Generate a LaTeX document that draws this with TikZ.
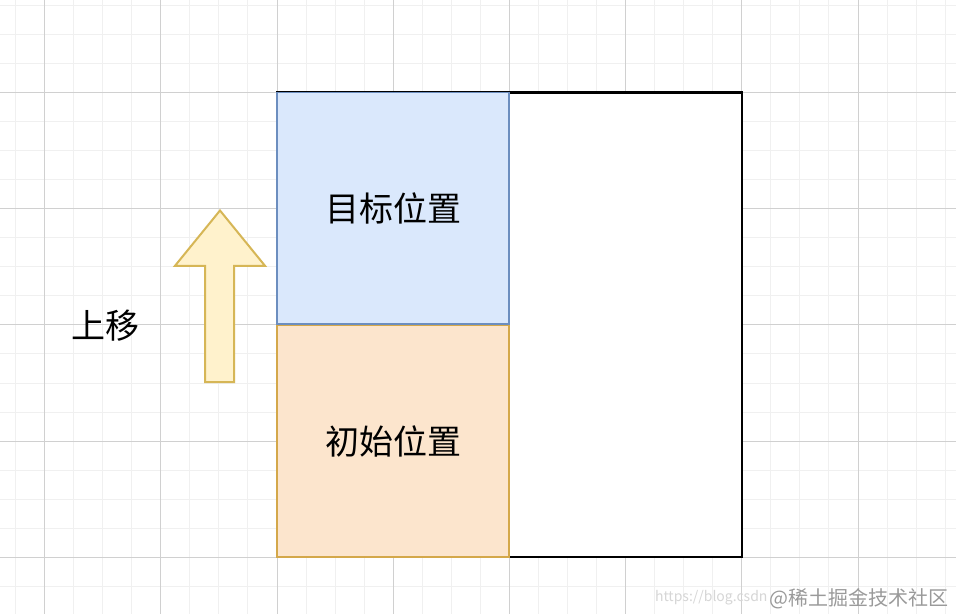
\documentclass[tikz,border=0pt]{standalone}
\usepackage{fontspec}
\setmainfont{Noto Sans CJK SC}
\newfontfamily\cjk{Noto Sans CJK SC}
\definecolor{minorgrid}{HTML}{F0F0F0}
\definecolor{majorgrid}{HTML}{D0D0D0}
\definecolor{bluefill}{HTML}{DAE8FC}
\definecolor{bluestroke}{HTML}{6C8EBF}
\definecolor{orangefill}{HTML}{FCE5CD}
\definecolor{orangestroke}{HTML}{D4A84A}
\definecolor{arrowfill}{HTML}{FFF2CC}
\definecolor{arrowstroke}{HTML}{D6B656}
\definecolor{wmgrey}{HTML}{9A9A9A}
\definecolor{wmlight}{HTML}{D6D6D6}
\tikzset{
  bigtext/.style={font=\cjk\fontsize{34}{40}\selectfont, text=black, inner sep=0pt},
  cell/.style={minimum width=232.4pt, minimum height=232.4pt, inner sep=0pt, line width=1.8pt},
}
\begin{document}
\begin{tikzpicture}[x=1pt,y=-1pt]
\useasboundingbox (0,0) rectangle (956,614);
\fill[white] (0,0) rectangle (956,614);
% minor grid
\foreach \i in {0,...,33} {
  \draw[minorgrid, line width=0.8pt] ({15.45+29.05*\i},0) -- ({15.45+29.05*\i},614);
}
\foreach \j in {0,...,21} {
  \draw[minorgrid, line width=0.8pt] (0,{5.25+29.05*\j}) -- (956,{5.25+29.05*\j});
}
% major grid
\foreach \i in {0,...,7} {
  \draw[majorgrid, line width=0.8pt] ({44.5+116.2*\i},0) -- ({44.5+116.2*\i},614);
}
\foreach \j in {0,...,4} {
  \draw[majorgrid, line width=0.8pt] (0,{92.4+116.2*\j}) -- (956,{92.4+116.2*\j});
}
% container
\node[draw=black, line width=2.4pt, fill=white, minimum width=464.8pt, minimum height=464.8pt, inner sep=0pt] (outer) at (509.3,324.8) {};
\node[cell, draw=bluestroke, fill=bluefill] (target) at (393.1,208.6) {};
\node[cell, draw=orangestroke, fill=orangefill] (start) at (393.1,441) {};
\draw[bluestroke, line width=1.8pt] (start.north west) -- (start.north east);
\node[bigtext] (targetlabel) at (target.center) {目标位置};
\node[bigtext] (startlabel) at (start.center) {初始位置};
% arrow
\draw[arrowstroke, fill=arrowfill, line width=2pt, line join=miter]
  (220,210.5) -- (265,265.8) -- (234.2,265.8) -- (234.2,382) -- (205.2,382) -- (205.2,265.8) -- (175,265.8) -- cycle;
\node[bigtext] (move) at (105,326) {上移};
% watermark
\node[font=\cjk\fontsize{20}{24}\selectfont, text=wmgrey, inner sep=0pt, anchor=east] (wm2) at (949,599) {@稀土掘金技术社区};
\node[font=\cjk\fontsize{14}{17}\selectfont, text=wmlight, inner sep=0pt, anchor=east] (wm1) at ([xshift=-2pt]wm2.west |- 0,598) {https://blog.csdn};
\end{tikzpicture}
\end{document}
